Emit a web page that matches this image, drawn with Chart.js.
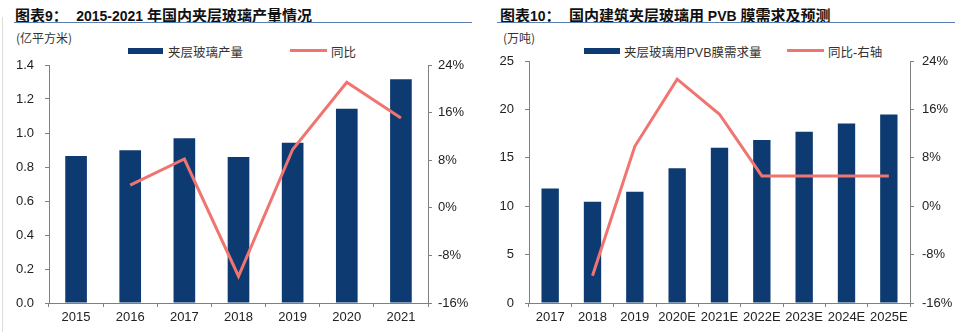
<!DOCTYPE html>
<html>
<head>
<meta charset="utf-8">
<script src="https://cdn.jsdelivr.net/npm/chart.js@4"></script>
<style>
  body { margin: 0; width: 958px; height: 332px; background: #fff; position: relative; overflow: hidden;
         font-family: "Liberation Sans", "Noto Sans CJK SC", sans-serif; color: #222; }
  .abs { position: absolute; white-space: nowrap; }
  .title { font-family: "Liberation Sans", "Noto Sans CJK SC", sans-serif; font-weight: bold; font-size: 15px; color: #111; top: 4px; }
  .title .lat { font-family: "Liberation Sans", Arial, sans-serif; font-size: 14px; }
  .rule { position: absolute; top: 22px; height: 0; border-top: 1.5px solid #5b7fb0; }
  .unit { font-family: "Noto Sans CJK SC", sans-serif; font-size: 12px; top: 29px; color: #333; }
  .lg { font-family: "Liberation Sans", "Noto Sans CJK SC", sans-serif; font-size: 12.5px; top: 42px; color: #333; }
  .box { position: absolute; height: 6px; background: #0d3a70; top: 48px; }
  .ln { position: absolute; height: 3px; background: #f07470; top: 49px; }
  canvas { position: absolute; }
</style>
</head>
<body>
<div class="abs" style="left:2px;top:17px;width:1px;height:315px;background:#ddd"></div>

<div class="abs title" style="left:15px">图表<span class="lat">9</span>：&nbsp;&nbsp;<span class="lat">2015-2021 </span>年国内夹层玻璃产量情况</div>
<div class="rule" style="left:14px;width:458px"></div>
<div class="abs unit" style="left:16px">(亿平方米)</div>
<div class="box" style="left:128px;width:35px"></div>
<div class="abs lg" style="left:168px">夹层玻璃产量</div>
<div class="ln" style="left:290px;width:37px"></div>
<div class="abs lg" style="left:331px">同比</div>
<canvas id="prodChart" width="478" height="304" style="left:0;top:28px"></canvas>

<div class="abs title" style="left:500px">图表<span class="lat">10</span>：&nbsp;&nbsp;国内建筑夹层玻璃用<span class="lat"> PVB </span>膜需求及预测</div>
<div class="rule" style="left:497px;width:458px"></div>
<div class="abs unit" style="left:503px">(万吨)</div>
<div class="box" style="left:584px;width:36px"></div>
<div class="abs lg" style="left:624px">夹层玻璃用PVB膜需求量</div>
<div class="ln" style="left:787px;width:37px"></div>
<div class="abs lg" style="left:828px">同比-右轴</div>
<canvas id="pvbChart" width="478" height="304" style="left:480px;top:28px"></canvas>

<script>
// 图表9 数据
const prodYears = ['2015', '2016', '2017', '2018', '2019', '2020', '2021'];
const prodOutput = [0.865, 0.898, 0.969, 0.859, 0.943, 1.143, 1.316];
const prodYoY = [null, 3.8, 8.2, -11.5, 9.8, 21.1, 15.1];

// 图表10 数据
const pvbYears = ['2017', '2018', '2019', '2020E', '2021E', '2022E', '2023E', '2024E', '2025E'];
const pvbDemand = [11.83, 10.45, 11.48, 13.93, 16.03, 16.83, 17.69, 18.55, 19.48];
const pvbYoY = [null, -11.5, 9.9, 21.0, 15.2, 5.0, 5.0, 5.0, 5.0];

// 右轴刻度
const yoyMin = -16, yoyMax = 24, yoyStep = 8;

const BAR = '#0d3a70';
const LINE = '#f07470';
const AXIS = '#808080';
const TICK_FONT = { family: 'Liberation Sans', size: 13 };

function buildChart(id, labels, bars, yoy, cfg) {
  const ctx = document.getElementById(id).getContext('2d');
  return new Chart(ctx, {
    data: {
      labels: labels,
      datasets: [
        {
          type: 'line',
          data: yoy,
          yAxisID: 'y1',
          borderColor: LINE,
          borderWidth: 3,
          pointRadius: 0,
          tension: 0,
          order: 0
        },
        {
          type: 'bar',
          data: bars,
          yAxisID: 'y',
          backgroundColor: BAR,
          barPercentage: cfg.barPct,
          categoryPercentage: 1,
          order: 1
        }
      ]
    },
    options: {
      responsive: false,
      animation: false,
      layout: { padding: { top: cfg.top, left: 0, right: 0, bottom: 0 } },
      plugins: { legend: { display: false }, tooltip: { enabled: false } },
      scales: {
        x: {
          offset: true,
          grid: { offset: true, drawOnChartArea: false, drawTicks: true, tickLength: 4, color: AXIS },
          border: { color: AXIS, width: 1 },
          ticks: { font: TICK_FONT, color: '#222', padding: 3, maxRotation: 0, autoSkip: false },
          afterFit: s => { s.height = 29; }
        },
        y: {
          position: 'left',
          min: cfg.yMin, max: cfg.yMax,
          grid: { drawOnChartArea: false, drawTicks: true, tickLength: 4, color: AXIS },
          border: { color: AXIS, width: 1 },
          ticks: { stepSize: cfg.yStep, font: TICK_FONT, color: '#222', padding: cfg.leftPad,
                   callback: v => v.toFixed(cfg.dec) },
          afterFit: s => { s.width = 49; }
        },
        y1: {
          position: 'right',
          min: yoyMin, max: yoyMax,
          grid: { drawOnChartArea: false, drawTicks: true, tickLength: 4, color: AXIS },
          border: { color: AXIS, width: 1 },
          ticks: { stepSize: yoyStep, font: TICK_FONT, color: '#222', padding: cfg.rightPad,
                   callback: v => v + '%' },
          afterFit: s => { s.width = cfg.rightW; }
        }
      }
    }
  });
}

buildChart('prodChart', prodYears, prodOutput, prodYoY,
  { top: 37, yMin: 0, yMax: 1.4, yStep: 0.2, dec: 1, barPct: 0.4, leftPad: 11, rightPad: 6, rightW: 50 });

buildChart('pvbChart', pvbYears, pvbDemand, pvbYoY,
  { top: 33, yMin: 0, yMax: 25, yStep: 5, dec: 0, barPct: 0.41, leftPad: 11, rightPad: 8, rightW: 48 });
</script>
</body>
</html>
